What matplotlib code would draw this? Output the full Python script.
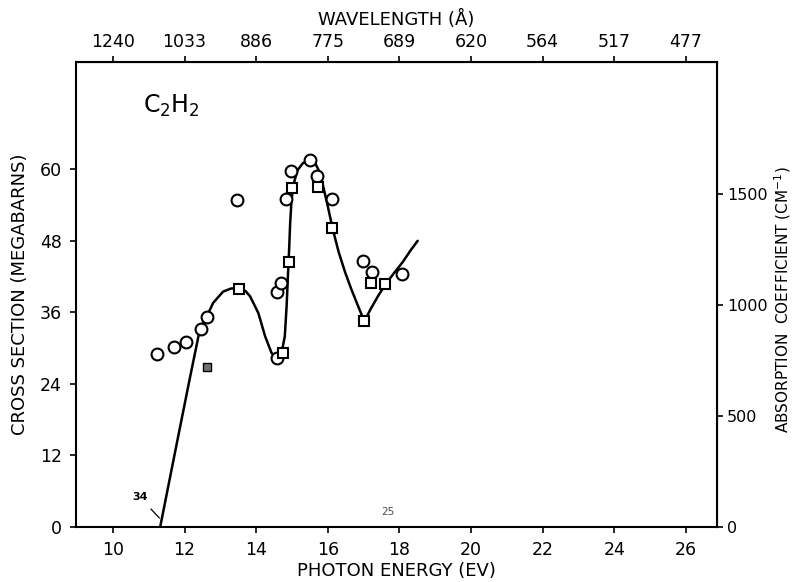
import numpy as np
import matplotlib.pyplot as plt

# photoabsorption of C2H2: cross section vs photon energy
circle_ev = [11.23, 11.70, 12.03, 12.45, 12.64, 13.46, 14.58, 14.58, 14.70,
             14.83, 14.97, 15.50, 15.69, 16.11, 16.99, 17.24, 18.08]
circle_mb = [29.1, 30.2, 31.0, 33.2, 35.2, 54.8, 28.4, 39.5, 41.0,
             55.0, 59.7, 61.6, 58.8, 55.0, 44.7, 42.8, 42.5]

square_ev = [13.53, 14.75, 14.92, 14.99, 15.74, 16.13, 17.02, 17.22, 17.61]
square_mb = [40.0, 29.2, 44.4, 56.8, 57.0, 50.2, 34.5, 41.0, 40.8]

hatched_ev = [12.62]
hatched_mb = [26.9]

curve_ev = [11.32, 11.80, 12.15, 12.43, 12.62, 12.80, 13.08, 13.30, 13.50,
            13.70, 13.83, 14.06, 14.25, 14.43, 14.57, 14.71, 14.80, 14.85,
            14.89, 14.92, 14.95, 14.99, 15.05, 15.15, 15.30, 15.50, 15.65,
            15.75, 15.87, 16.00, 16.13, 16.30, 16.48, 16.65, 16.85, 17.02,
            17.20, 17.40, 17.61, 17.85, 18.10, 18.30, 18.51]
curve_mb = [0.0, 14.5, 25.0, 33.2, 35.3, 37.6, 39.5, 40.0, 40.1,
            39.6, 38.7, 35.9, 32.0, 29.2, 28.2, 29.2, 32.0, 37.0,
            42.5, 46.5, 51.0, 55.0, 57.6, 59.8, 61.0, 61.7, 61.0,
            59.8, 57.2, 53.8, 50.2, 46.2, 42.8, 40.0, 37.0, 34.5,
            36.6, 38.7, 40.7, 42.6, 44.5, 46.3, 48.0]

energy_ticks = [10, 12, 14, 16, 18, 20, 22, 24, 26]
sigma_ticks = [0, 12, 24, 36, 48, 60]
wavelength_labels = ['1240', '1033', '886', '775', '689', '620', '564', '517', '477']
absorb_ticks = [0, 500, 1000, 1500]

# absorption coefficient (cm^-1) per megabarn at STP
loschmidt = 26.87

plt.rcParams['font.family'] = 'DejaVu Sans'

fig = plt.figure(figsize=(7.95, 5.82), dpi=100)
ax = fig.add_axes([0.0956, 0.0945, 0.8064, 0.799])

ax.plot(curve_ev, curve_mb, color='k', lw=1.8, zorder=2,
        solid_joinstyle='round', solid_capstyle='round')
ax.plot(circle_ev, circle_mb, 'o', ms=8.5, mfc='white', mec='k', mew=1.5, zorder=3)
ax.plot(square_ev, square_mb, 's', ms=6.5, mfc='white', mec='k', mew=1.5, zorder=4)
ax.plot(hatched_ev, hatched_mb, 's', ms=5.5, mfc='0.45', mec='k', mew=1.0, zorder=4)

ax.set_xlim(8.97, 26.87)
ax.set_ylim(0, 78)
ax.set_xticks(energy_ticks)
ax.set_yticks(sigma_ticks)

for side in ['top', 'bottom', 'left', 'right']:
    ax.spines[side].set_linewidth(1.5)
ax.tick_params(which='both', direction='out', length=4, width=1.2,
               labelsize=12.5, pad=6)

ax.set_xlabel('PHOTON ENERGY (EV)', fontsize=13, labelpad=2)
ax.set_ylabel('CROSS SECTION (MEGABARNS)', fontsize=13, labelpad=8)

# wavelength scale along the top
top = ax.secondary_xaxis('top')
top.set_xticks(energy_ticks)
top.set_xticklabels(wavelength_labels)
top.tick_params(direction='out', length=4, width=1.2, labelsize=12.5, pad=4)
top.set_xlabel('WAVELENGTH (Å)', fontsize=13, labelpad=6)

# absorption coefficient scale on the right
right = ax.secondary_yaxis('right', functions=(lambda s: s * loschmidt,
                                               lambda k: k / loschmidt))
right.set_yticks(absorb_ticks)
right.tick_params(direction='out', length=4, width=1.2, labelsize=11.5, pad=3)
fig.text(0.984, 0.485, 'ABSORPTION  COEFFICIENT (CM$^{-1}$)', fontsize=11,
         rotation=90, ha='center', va='center')

ax.text(10.84, 70.6, 'C$_2$H$_2$', fontsize=17, ha='left', va='center')

ax.annotate('34', xy=(11.3, 1.5), xytext=(10.75, 5.0), fontsize=8,
            ha='center', va='center', fontweight='bold',
            arrowprops=dict(arrowstyle='-', color='k', lw=0.9,
                            shrinkA=4, shrinkB=0))
ax.text(17.68, 2.6, '25', fontsize=7.5, ha='center', va='center', color='0.3')

fig.savefig('out.png', dpi=100)
